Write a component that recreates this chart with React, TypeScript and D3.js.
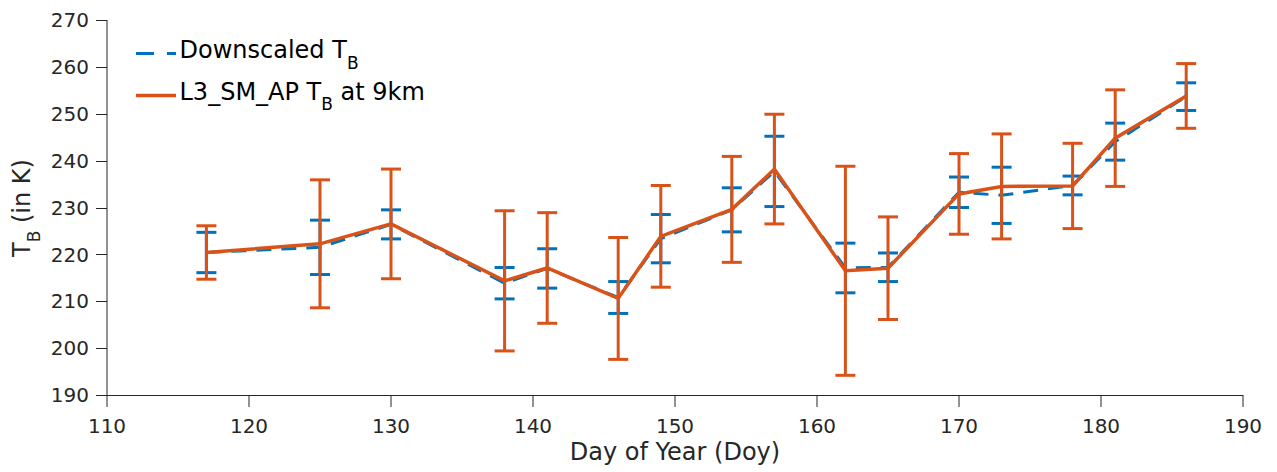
import React from "react";
import * as d3 from "d3";

const days = [117, 125, 130, 138, 141, 146, 149, 154, 157, 162, 165, 170, 173, 178, 181, 186];
const downscaledMean = [220.4, 221.5, 226.4, 213.85, 217.0, 210.8, 223.35, 229.5, 237.7, 217.1, 217.25, 233.25, 232.6, 234.7, 244.05, 253.65];
const downscaledErr = [4.3, 5.8, 3.1, 3.35, 4.2, 3.4, 5.15, 4.7, 7.5, 5.3, 3.05, 3.25, 6.0, 2.0, 3.95, 2.95];
const l3Mean = [220.4, 222.25, 226.5, 214.35, 217.1, 210.6, 223.85, 229.6, 238.2, 216.5, 217.05, 232.9, 234.5, 234.6, 244.8, 253.8];
const l3Err = [5.7, 13.65, 11.7, 14.95, 11.8, 13.0, 10.85, 11.3, 11.7, 22.3, 10.95, 8.6, 11.2, 9.1, 10.3, 6.9];
const xTicks = [110, 120, 130, 140, 150, 160, 170, 180, 190];
const yTicks = [190, 200, 210, 220, 230, 240, 250, 260, 270];

const BLUE = "#0072BD";
const ORANGE = "#D95319";
const TXT = "#262626";
const FONT = "DejaVu Sans";

export default function App() {
  const W = 1277, H = 472;
  const x = d3.scaleLinear().domain([110, 190]).range([107, 1243]);
  const y = d3.scaleLinear().domain([190, 270]).range([395, 20]);
  const line = d3.line<number>().x((_, i) => x(days[i])).y((v) => y(v));
  const capW = 10;

  const errBars = (means: number[], errs: number[], color: string, key: string, drawVert: boolean) =>
    days.map((d, i) => {
      const cx = x(d);
      const top = y(means[i] + errs[i]);
      const bot = y(means[i] - errs[i]);
      return (
        <g key={key + i}>
          {drawVert && <line x1={cx} x2={cx} y1={top} y2={bot} stroke={color} strokeWidth={3} />}
          <line x1={cx - capW} x2={cx + capW} y1={top} y2={top} stroke={color} strokeWidth={3} />
          <line x1={cx - capW} x2={cx + capW} y1={bot} y2={bot} stroke={color} strokeWidth={3} />
        </g>
      );
    });

  return (
    <svg width={W} height={H} style={{ position: "absolute", left: 0, top: 0, background: "#fff" }} fontFamily={FONT}>
      <rect width={W} height={H} fill="#fff" />
      {/* axes */}
      <line x1={107} x2={107} y1={20} y2={395} stroke={TXT} strokeWidth={1} />
      <line x1={107} x2={1243} y1={395.5} y2={395.5} stroke={TXT} strokeWidth={1} />
      {yTicks.map((t) => (
        <g key={"y" + t}>
          <line x1={96} x2={107} y1={Math.round(y(t)) + 0.5} y2={Math.round(y(t)) + 0.5} stroke={TXT} strokeWidth={1} />
          <text x={89} y={y(t) + 7.2} textAnchor="end" fontSize={20} fill={TXT}>{t}</text>
        </g>
      ))}
      {xTicks.map((t) => (
        <g key={"x" + t}>
          <line x1={Math.round(x(t))} x2={Math.round(x(t))} y1={395} y2={407} stroke={TXT} strokeWidth={1} />
          <text x={x(t)} y={432.5} textAnchor="middle" fontSize={20} fill={TXT}>{t}</text>
        </g>
      ))}
      <text x={675} y={460} textAnchor="middle" fontSize={24} fill={TXT}>Day of Year (Doy)</text>
      <text transform={`translate(30,208) rotate(-90)`} textAnchor="middle" fontSize={24} fill={TXT}>
        <tspan>T</tspan>
        <tspan dy={10} fontSize={17}>B</tspan>
        <tspan dy={-10}>{" (in K)"}</tspan>
      </text>

      {/* downscaled series */}
      <path d={line(downscaledMean) || ""} fill="none" stroke={BLUE} strokeWidth={3} strokeDasharray="15,10" />
      {errBars(downscaledMean, downscaledErr, BLUE, "b", true)}
      {/* L3 series */}
      <path d={line(l3Mean) || ""} fill="none" stroke={ORANGE} strokeWidth={3.5} strokeLinejoin="miter" />
      {errBars(l3Mean, l3Err, ORANGE, "o", true)}

      {/* legend */}
      <line x1={136} x2={176} y1={53.5} y2={53.5} stroke={BLUE} strokeWidth={3} strokeDasharray="18,13" />
      <text x={179.5} y={58.3} fontSize={24} fill="#000">
        <tspan>Downscaled T</tspan>
        <tspan dy={10.5} fontSize={17}>B</tspan>
      </text>
      <line x1={136} x2={176} y1={95.5} y2={95.5} stroke={ORANGE} strokeWidth={3.5} />
      <text x={179.5} y={99.5} fontSize={24} fill="#000">
        <tspan>L3_SM_AP T</tspan>
        <tspan dy={10.5} fontSize={17}>B</tspan>
        <tspan dy={-10.5}>{" at 9km"}</tspan>
      </text>
    </svg>
  );
}
